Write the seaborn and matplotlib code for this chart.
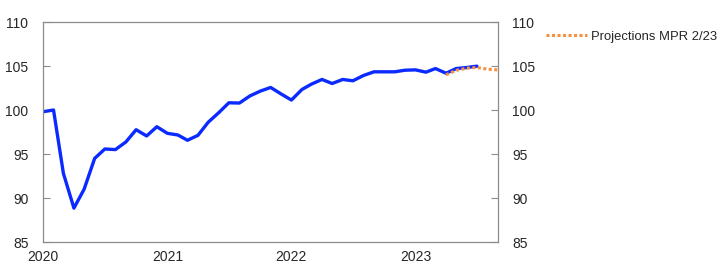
import matplotlib
matplotlib.use("Agg")
import matplotlib.pyplot as plt
import seaborn as sns
import pandas as pd

# Data
actual_dates = pd.date_range("2020-01-01", "2023-07-01", freq="MS")
actual_values = [99.8, 100.0, 92.8, 88.85, 91.0, 94.5, 95.57, 95.5, 96.37, 97.76, 97.05, 98.1,
                 97.35, 97.16, 96.56, 97.12, 98.6, 99.69, 100.82, 100.79, 101.6, 102.14, 102.56, 101.84,
                 101.13, 102.33, 102.94, 103.47, 103.01, 103.47, 103.32, 103.92, 104.34, 104.34, 104.34, 104.52,
                 104.56, 104.3, 104.71, 104.18, 104.71, 104.83, 104.98]
proj_dates = pd.date_range("2023-04-01", "2023-09-01", freq="MS")
proj_values = [104.0, 104.5, 104.75, 104.83, 104.64, 104.56]
proj_label = "Projections MPR 2/23"
yticks = [85, 90, 95, 100, 105, 110]
xtick_labels = ["2020", "2021", "2022", "2023"]

sns.set_style("white")
plt.rcParams["font.family"] = ["Liberation Sans", "DejaVu Sans"]
plt.rcParams["font.size"] = 10

df_a = pd.DataFrame({"date": actual_dates, "value": actual_values})
df_p = pd.DataFrame({"date": proj_dates, "value": proj_values})

fig = plt.figure(figsize=(7.22, 2.78), dpi=100)
ax = fig.add_axes([43/722, 36/278, 455/722, 220/278])

sns.lineplot(data=df_a, x="date", y="value", ax=ax, color="#0a2aff", lw=2.4, zorder=2)
sns.lineplot(data=df_p, x="date", y="value", ax=ax, color="#f7913d", lw=2.2,
             linestyle=(0, (1, 0.8)), label=proj_label, zorder=3)

ax.set_xlim(pd.Timestamp("2020-01-01"), pd.Timestamp("2023-09-01"))
ax.set_ylim(85, 110)
ax.set_yticks(yticks)
ax.set_xticks([pd.Timestamp(f"{y}-01-01") for y in xtick_labels])
ax.set_xticklabels(xtick_labels)
ax.set_xlabel("")
ax.set_ylabel("")
for s in ax.spines.values():
    s.set_color("#8c8c8c")
    s.set_linewidth(0.9)
ax.tick_params(axis="both", direction="in", length=5, color="#8c8c8c", labelsize=10, pad=6)
ax.tick_params(axis="y", pad=10.5)

ax2 = ax.twinx()
ax2.set_ylim(85, 110)
ax2.set_yticks(yticks)
ax2.tick_params(axis="y", direction="in", length=5, color="#8c8c8c", labelsize=10, pad=10)
for s in ax2.spines.values():
    s.set_visible(False)

leg = ax.legend(loc="upper left", bbox_to_anchor=(1.095, 0.985), frameon=False,
                handlelength=3.1, handletextpad=0.3, borderaxespad=0, fontsize=9.4)

fig.savefig("out.png", dpi=100)
